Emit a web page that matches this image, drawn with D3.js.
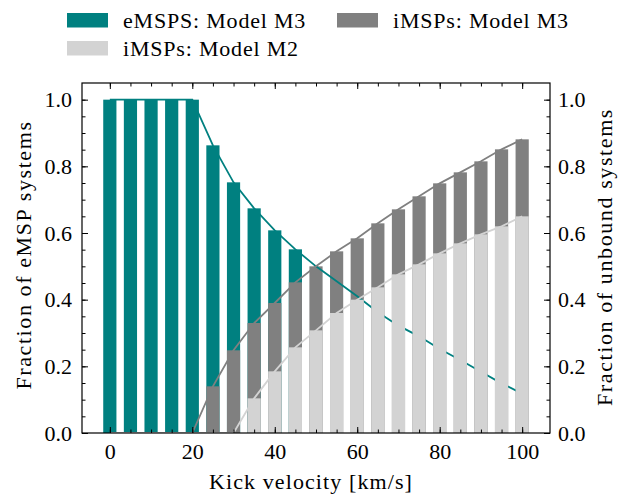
<!DOCTYPE html>
<html>
<head>
<meta charset="utf-8">
<script src="https://cdn.jsdelivr.net/npm/d3@7"></script>
<style>
  body { margin: 0; background: #fff; }
</style>
</head>
<body>
<svg id="chart" width="619" height="495"></svg>
<script>
// kick velocities (km/s)
var velocities = [0, 5, 10, 15, 20, 25, 30, 35, 40, 45, 50, 55, 60, 65, 70, 75, 80, 85, 90, 95, 100];
// eMSP fraction, bars (only up to 45 km/s) and curve
var emspBars = [1, 1, 1, 1, 1, 0.863, 0.752, 0.674, 0.608, 0.551];
var emspLine = [1, 1, 1, 1, 1, 0.863, 0.752, 0.674, 0.608, 0.551, 0.5, 0.455, 0.41, 0.362, 0.322, 0.29, 0.252, 0.219, 0.184, 0.149, 0.118];
// unbound iMSP fractions
var imspM3 = [0, 0, 0, 0, 0, 0.14, 0.248, 0.33, 0.39, 0.452, 0.5, 0.545, 0.584, 0.629, 0.671, 0.71, 0.749, 0.782, 0.815, 0.851, 0.881];
var imspM2 = [0, 0, 0, 0, 0, 0, 0, 0.104, 0.185, 0.257, 0.308, 0.36, 0.40, 0.437, 0.476, 0.506, 0.539, 0.569, 0.596, 0.62, 0.65];
var xTicks = [0, 20, 40, 60, 80, 100];
var yTicks = [0, 0.2, 0.4, 0.6, 0.8, 1.0];
var legendItems = [
  { label: "eMSPS: Model M3", color: "#008080" },
  { label: "iMSPs: Model M2", color: "#d3d3d3" },
  { label: "iMSPs: Model M3", color: "#808080" }
];

var teal = "#008080", gray = "#808080", light = "#d3d3d3";
var barWidth = 3.2;
var fontFamily = "'Liberation Serif', 'Times New Roman', serif";
var fontSize = "22px";

var dimensions = {
  width: 619,
  height: 495,
  margin: { top: 83, right: 69, bottom: 62, left: 82 }
};
dimensions.boundedWidth = dimensions.width - dimensions.margin.left - dimensions.margin.right;
dimensions.boundedHeight = dimensions.height - dimensions.margin.top - dimensions.margin.bottom;

var svg = d3.select("#chart");

var xScale = d3.scaleLinear()
  .domain([-6.75, 106.75])
  .range([0, dimensions.boundedWidth]);

// both y axes share the same range
var yScale = d3.scaleLinear()
  .domain([0, 1.05])
  .range([dimensions.boundedHeight, 0]);

var bounds = svg.append("g")
  .attr("transform", "translate(" + dimensions.margin.left + "," + dimensions.margin.top + ")");

bounds.append("clipPath").attr("id", "plotclip")
  .append("rect")
  .attr("width", dimensions.boundedWidth)
  .attr("height", dimensions.boundedHeight);

var plot = bounds.append("g").attr("clip-path", "url(#plotclip)");

function drawBars(values, color) {
  plot.append("g")
    .selectAll("rect")
    .data(values)
    .enter()
    .append("rect")
    .attr("x", function (d, i) { return xScale(velocities[i] - barWidth / 2); })
    .attr("width", xScale(barWidth) - xScale(0))
    .attr("y", function (d) { return yScale(d); })
    .attr("height", function (d) { return dimensions.boundedHeight - yScale(d); })
    .attr("fill", color);
}

function drawLine(values, color) {
  var line = d3.line()
    .x(function (d, i) { return xScale(velocities[i]); })
    .y(function (d) { return yScale(d); });
  plot.append("path")
    .datum(values)
    .attr("d", line)
    .attr("fill", "none")
    .attr("stroke", color)
    .attr("stroke-width", 1.8);
}

drawBars(emspBars, teal);
drawBars(imspM3, gray);
drawLine(emspLine, teal);
drawLine(imspM3, gray);
drawBars(imspM2, light);
drawLine(imspM2, light);

// axes, ticks pointing inwards on all four sides
var minorX = d3.range(0, 101, 5);
var minorY = d3.range(0, 1.01, 0.05);

function styleAxis(g) {
  g.attr("font-family", null).attr("font-size", null);
  g.select(".domain").remove();
  g.selectAll("line").attr("stroke", "#000").attr("stroke-width", 1);
  g.selectAll("text")
    .style("font-family", fontFamily)
    .style("font-size", fontSize)
    .attr("fill", "#000");
}

function addAxis(axisFn, transform, majors, minors, fmt, pad) {
  var scale = (axisFn === d3.axisBottom || axisFn === d3.axisTop) ? xScale : yScale;
  var g = bounds.append("g").attr("transform", transform);
  g.append("g").call(axisFn(scale).tickValues(minors).tickSize(-3.5).tickFormat(""));
  g.append("g").call(axisFn(scale).tickValues(majors).tickSize(-6).tickPadding(pad).tickFormat(fmt ? fmt : ""));
  g.selectAll("g").each(function () { styleAxis(d3.select(this)); });
  return g;
}

addAxis(d3.axisBottom, "translate(0," + dimensions.boundedHeight + ")", xTicks, minorX, d3.format("d"), 10);
addAxis(d3.axisTop, "translate(0,0)", xTicks, minorX, null, 10);
addAxis(d3.axisLeft, "translate(0,0)", yTicks, minorY, d3.format(".1f"), 10);
addAxis(d3.axisRight, "translate(" + dimensions.boundedWidth + ",0)", yTicks, minorY, d3.format(".1f"), 8);

// frame
bounds.append("rect")
  .attr("width", dimensions.boundedWidth)
  .attr("height", dimensions.boundedHeight)
  .attr("fill", "none")
  .attr("stroke", "#000")
  .attr("stroke-width", 1.2);

function addText(sel, spacing) {
  return sel.append("text")
    .style("font-family", fontFamily)
    .style("font-size", fontSize)
    .style("letter-spacing", spacing + "px")
    .attr("fill", "#000");
}

// axis labels
addText(svg, 1.1)
  .attr("x", 311)
  .attr("y", 489)
  .attr("text-anchor", "middle")
  .text("Kick velocity [km/s]");

addText(svg, 1.6)
  .attr("transform", "translate(31,255) rotate(-90)")
  .attr("text-anchor", "middle")
  .text("Fraction of eMSP systems");

addText(svg, 1.6)
  .attr("transform", "translate(612,257) rotate(-90)")
  .attr("text-anchor", "middle")
  .text("Fraction of unbound systems");

// legend, two columns filled column first
var legendPos = [[67, 13], [67, 41], [337, 13]];
var legend = svg.append("g");
legendItems.forEach(function (item, i) {
  var g = legend.append("g").attr("transform", "translate(" + legendPos[i][0] + "," + legendPos[i][1] + ")");
  g.append("rect").attr("width", 41).attr("height", 14.5).attr("fill", item.color);
  addText(g, 0.8).attr("x", 56).attr("y", 15).text(item.label);
});
</script>
</body>
</html>
